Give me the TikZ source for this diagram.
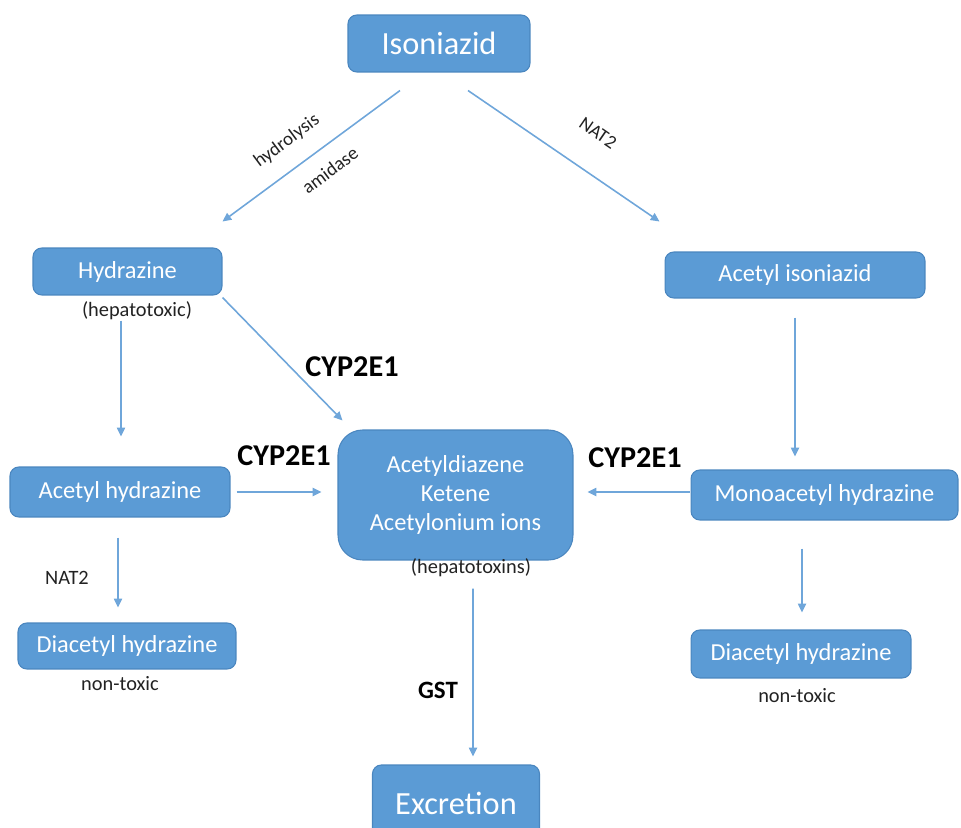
\documentclass[tikz,border=0pt]{standalone}
\usepackage{fontspec}
\setmainfont{Carlito}
\usetikzlibrary{calc,arrows.meta}
\definecolor{boxfill}{HTML}{5B9BD5}
\definecolor{boxline}{HTML}{4A86BF}
\definecolor{arrcol}{HTML}{6FA6DA}
\definecolor{labtxt}{HTML}{222222}
\tikzset{
  box/.style={draw=boxline, line width=0.6pt, fill=boxfill, rounded corners=5pt,
    text=white, font=\fontsize{13.9}{16.5}\selectfont, align=center,
    inner sep=0pt},
  bigbox/.style={box, font=\fontsize{18.4}{22}\selectfont},
  arr/.style={draw=arrcol, line width=0.9pt, -{Triangle[length=5pt,width=4.6pt]}},
  small/.style={text=labtxt, font=\fontsize{11.6}{13}\selectfont, inner sep=0pt},
  tiny/.style={text=labtxt, font=\fontsize{10.8}{12}\selectfont, inner sep=0pt},
  enz/.style={text=black, font=\bfseries\fontsize{17.2}{20}\selectfont, inner sep=0pt},
  enzs/.style={text=black, font=\bfseries\fontsize{14.2}{17}\selectfont, inner sep=0pt},
}
\begin{document}
\begin{tikzpicture}[x=0.02cm, y=-0.02cm]
\useasboundingbox (0,0) rectangle (961,828);
\clip (0,0) rectangle (961,828);
% boxes
\node[bigbox, minimum width=3.64cm, minimum height=1.14cm] (iso) at (439,43.5) {Isoniazid};
\node[box, minimum width=3.78cm, minimum height=0.94cm] (hyd) at (127.5,271.5) {Hydrazine};
\node[box, minimum width=5.2cm, minimum height=0.92cm] (acis) at (795,275) {Acetyl isoniazid};
\node[box, minimum width=4.4cm, minimum height=1.0cm] (ach) at (120,492) {Acetyl hydrazine};
\node[box, rounded corners=14pt, minimum width=4.7cm, minimum height=2.6cm,
      font=\fontsize{13.9}{16.4}\selectfont] (cen) at (455.5,495) {Acetyldiazene\\Ketene\\Acetylonium ions};
\node[box, minimum width=5.34cm, minimum height=1.0cm] (mono) at (824.5,495) {Monoacetyl hydrazine};
\node[box, minimum width=4.36cm, minimum height=0.92cm] (dl) at (127,646) {Diacetyl hydrazine};
\node[box, minimum width=4.4cm, minimum height=0.96cm] (dr) at (801,654) {Diacetyl hydrazine};
\node[bigbox, minimum width=3.34cm, minimum height=1.52cm, text depth=0pt] (exc) at (456,803) {\raisebox{0pt}{Excretion}};
% labels
\node[small] (l1) at (137,311) {(hepatotoxic)};
\node[small] (l2) at (471,568) {(hepatotoxins)};
\node[small] (l3) at (120,684) {non-toxic};
\node[small] (l4) at (797,696) {non-toxic};
\node[small] (l5) at (67,578) {NAT2};
\node[tiny, rotate=-34.5] (l6) at (598,133) {NAT2};
\node[tiny, rotate=36.6] (l7) at (287,141) {hydrolysis};
\node[tiny, rotate=36.6] (l8) at (330,170) {amidase};
\node[enz] (c1) at (352,367) {CYP2E1};
\node[enz] (c2) at (284,456) {CYP2E1};
\node[enz] (c3) at (635,458) {CYP2E1};
\node[enzs] (g1) at (438,690) {GST};
% arrows
\draw[arr] ($(iso.south)+(-39,18)$) -- ($(hyd.north east)+(0,-26)$);
\draw[arr] ($(iso.south)+(29,18)$) -- ($(acis.north west)+(-5,-30)$);
\draw[arr] ($(hyd.south)+(-6.5,25)$) -- ($(ach.north)+(1,-30)$);
\draw[arr] ($(hyd.south east)+(0,2)$) -- ($(cen.north west)+(5,-9)$);
\draw[arr] ($(ach.east)+(6,0)$) -- ($(cen.west)+(-16,-3)$);
\draw[arr] ($(acis.south)+(0,19)$) -- ($(mono.north)+(-29.5,-13)$);
\draw[arr] ($(mono.west)+(-1,-3)$) -- ($(cen.east)+(14,-3)$);
\draw[arr] ($(ach.south)+(-2,20)$) -- ($(dl.north)+(-9,-15)$);
\draw[arr] ($(mono.south)+(-22.5,28)$) -- ($(dr.north)+(1,-17)$);
\draw[arr] ($(cen.south)+(17.5,28)$) -- ($(exc.north)+(17,-8)$);
\end{tikzpicture}
\end{document}
